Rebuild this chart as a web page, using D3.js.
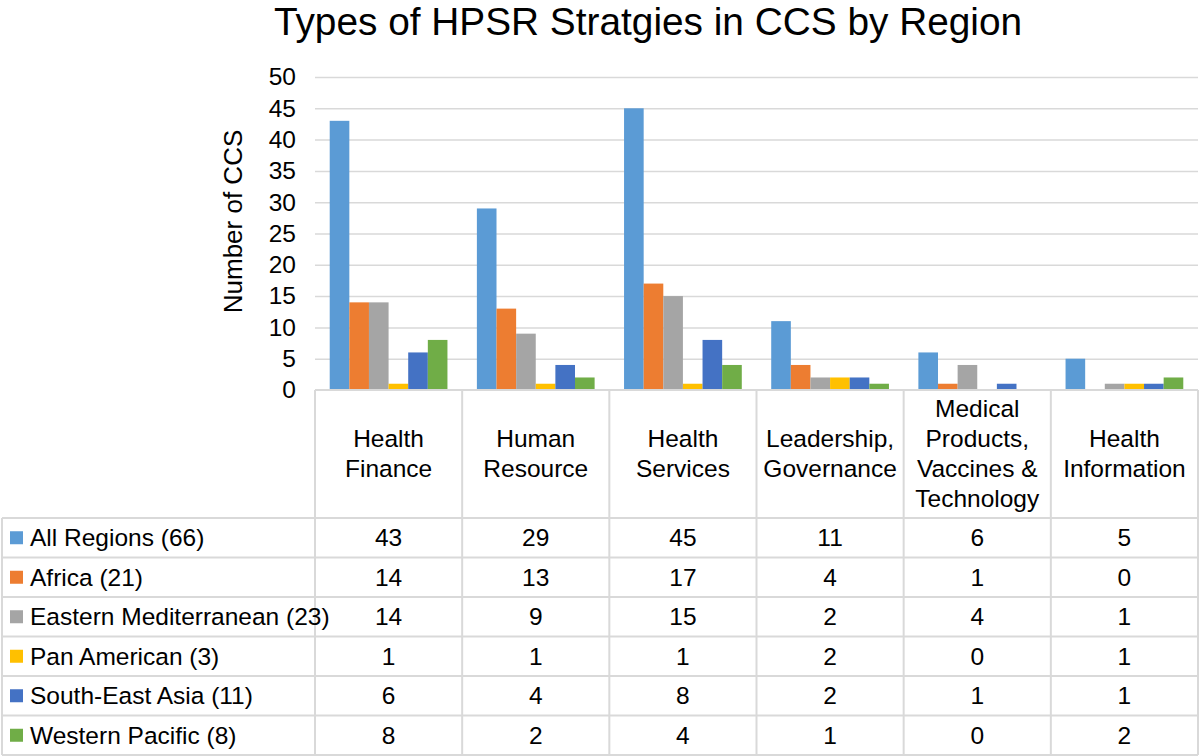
<!DOCTYPE html>
<html>
<head>
<meta charset="utf-8">
<script src="https://cdn.jsdelivr.net/npm/d3@7"></script>
<style>
  body { margin: 0; background: #fff; }
  text { font-family: "Liberation Sans", Arial, Helvetica, sans-serif; fill: #000; }
</style>
</head>
<body>
<script>
// chart data
var categories = ["Health Finance", "Human Resource", "Health Services", "Leadership, Governance", "Medical Products, Vaccines & Technology", "Health Information"];
var headerLines = [["Health", "Finance"], ["Human", "Resource"], ["Health", "Services"], ["Leadership,", "Governance"], ["Medical", "Products,", "Vaccines &", "Technology"], ["Health", "Information"]];
var seriesNames = ["All Regions (66)", "Africa (21)", "Eastern Mediterranean (23)", "Pan American (3)", "South-East Asia (11)", "Western Pacific (8)"];
var allRegions = [43, 29, 45, 11, 6, 5];
var africa = [14, 13, 17, 4, 1, 0];
var eastMed = [14, 9, 15, 2, 4, 1];
var panAmerican = [1, 1, 1, 2, 0, 1];
var seAsia = [6, 4, 8, 2, 1, 1];
var westPacific = [8, 2, 4, 1, 0, 2];
var yTicks = [0, 5, 10, 15, 20, 25, 30, 35, 40, 45, 50];
var colors = ["#5B9BD5", "#ED7D31", "#A5A5A5", "#FFC000", "#4472C4", "#70AD47"];

var series = [allRegions, africa, eastMed, panAmerican, seAsia, westPacific];

var width = 1200, height = 756;
var svg = d3.select('body').append('svg')
  .attr('width', width)
  .attr('height', height);

var plotLeft = 315, plotRight = 1198, plotTop = 77, plotBottom = 390;
var tableLeft = 2, headerBottom = 518, rowH = 39.5;
var gridColor = "#d9d9d9";
var fs = 24.5;

var x0 = d3.scaleBand().domain(categories).range([plotLeft, plotRight]).padding(0);
var x1 = d3.scaleBand().domain(seriesNames)
  .range([x0.bandwidth() * 0.1, x0.bandwidth() * 0.9]).padding(0);
var y = d3.scaleLinear().domain([0, 50]).range([plotBottom, plotTop]);

// title
svg.append('text')
  .attr('x', 648).attr('y', 35)
  .attr('text-anchor', 'middle')
  .attr('font-size', 38.8)
  .text('Types of HPSR Stratgies in CCS by Region');

// gridlines
svg.append('g')
  .attr('transform', 'translate(' + plotLeft + ',0)')
  .call(d3.axisLeft(y).tickValues(yTicks.slice(1)).tickSize(-(plotRight - plotLeft)).tickFormat(''))
  .call(function(g){ g.select('.domain').remove(); })
  .selectAll('line').attr('stroke', gridColor).attr('stroke-width', 1.5);

// y tick labels
svg.append('g')
  .attr('transform', 'translate(' + 300 + ',0)')
  .call(d3.axisLeft(y).tickValues(yTicks).tickSize(0).tickPadding(4))
  .call(function(g){ g.select('.domain').remove(); })
  .selectAll('text')
  .attr('font-size', fs)
  .style('font-family', '"Liberation Sans", Arial, sans-serif')
  .attr('fill', '#000');

// y axis title
svg.append('text')
  .attr('transform', 'translate(242,' + ((plotTop + plotBottom) / 2 - 12) + ') rotate(-90)')
  .attr('text-anchor', 'middle')
  .attr('font-size', 26)
  .text('Number of CCS');

// bars
var groups = svg.selectAll('g.cat').data(categories).enter()
  .append('g').attr('class', 'cat')
  .attr('transform', function(d){ return 'translate(' + x0(d) + ',0)'; });

groups.selectAll('rect').data(function(d, i){
    return series.map(function(s, j){ return {name: seriesNames[j], value: s[i], color: colors[j]}; });
  }).enter()
  .append('rect')
  .attr('x', function(d){ return x1(d.name); })
  .attr('width', x1.bandwidth())
  .attr('y', function(d){ return y(d.value); })
  .attr('height', function(d){ return plotBottom - y(d.value); })
  .attr('fill', function(d){ return d.color; });

// table lines
var tableBottom = headerBottom + rowH * seriesNames.length;
var lines = svg.append('g').attr('stroke', gridColor).attr('stroke-width', 2);
lines.append('line').attr('x1', plotLeft).attr('x2', plotRight).attr('y1', plotBottom).attr('y2', plotBottom);
categories.forEach(function(c){
  lines.append('line').attr('x1', x0(c)).attr('x2', x0(c)).attr('y1', plotBottom).attr('y2', tableBottom);
});
lines.append('line').attr('x1', plotRight).attr('x2', plotRight).attr('y1', plotBottom).attr('y2', tableBottom);
lines.append('line').attr('x1', tableLeft).attr('x2', tableLeft).attr('y1', headerBottom).attr('y2', tableBottom);
d3.range(seriesNames.length + 1).forEach(function(i){
  var yy = headerBottom + i * rowH;
  lines.append('line').attr('x1', tableLeft).attr('x2', plotRight).attr('y1', yy).attr('y2', yy);
});

// header labels
var lineH = 30;
categories.forEach(function(c, i){
  var ls = headerLines[i];
  var cx = x0(c) + x0.bandwidth() / 2;
  var start = 453 - (ls.length - 1) * lineH / 2;
  ls.forEach(function(l, k){
    svg.append('text')
      .attr('x', cx).attr('y', start + k * lineH)
      .attr('dy', '0.35em')
      .attr('text-anchor', 'middle')
      .attr('font-size', fs)
      .text(l);
  });
});

// rows: legend key, name, values
seriesNames.forEach(function(name, j){
  var cy = headerBottom + j * rowH + rowH / 2;
  svg.append('rect')
    .attr('x', 10).attr('y', cy - 6.5)
    .attr('width', 13).attr('height', 13)
    .attr('fill', colors[j]);
  svg.append('text')
    .attr('x', 30).attr('y', cy).attr('dy', '0.35em')
    .attr('font-size', fs)
    .text(name);
  categories.forEach(function(c, i){
    svg.append('text')
      .attr('x', x0(c) + x0.bandwidth() / 2).attr('y', cy).attr('dy', '0.35em')
      .attr('text-anchor', 'middle')
      .attr('font-size', fs)
      .text(series[j][i]);
  });
});
</script>
</body>
</html>
